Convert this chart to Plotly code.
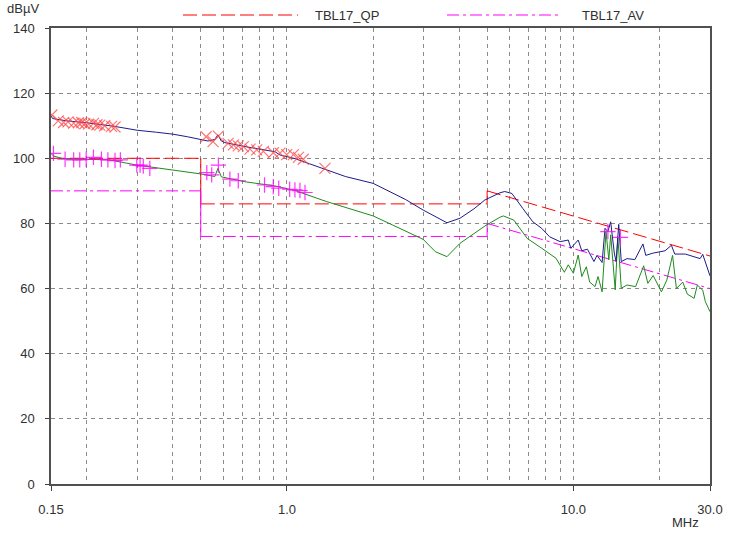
import plotly.graph_objects as go

# limit lines (frequency breakpoints in MHz, level in dBuV)
limit_f = [0.15, 0.5, 5.0, 30.0]
qp_limit = [[100, 100], [86, 86], [90, 70]]
av_limit = [[90, 90], [76, 76], [80, 60]]

# measured QP trace (blue)
qp_freq = [0.15, 0.152, 0.17, 0.2, 0.25, 0.3, 0.35, 0.4, 0.45, 0.5, 0.53, 0.56, 0.574, 0.59,
           0.607, 0.713, 0.8, 0.909, 0.946, 1.067, 1.2, 1.376, 1.6, 2.0, 2.34, 2.6, 2.99, 3.3,
           3.62, 4.02, 4.5, 4.91, 5.54, 5.76, 6.1, 6.66, 7.22, 7.75, 8.26, 8.99, 9.6, 9.8,
           10.4, 10.7, 11.2, 11.8, 12.1, 12.6, 12.9, 13.2, 13.5, 13.9, 14.1, 14.4, 14.7, 15.4,
           16.4, 17.5, 17.9, 19.0, 20.9, 22.0, 22.6, 24.6, 26.4, 27.7, 28.3, 29.2, 30.0]
qp_level = [113.0, 112.2, 111.5, 110.9, 109.8, 108.6, 108.0, 107.4, 106.6, 105.9, 105.3, 105.8,
            107.2, 105.3, 104.8, 103.6, 102.8, 102.0, 101.0, 99.9, 98.3, 96.4, 94.4, 92.3, 89.3,
            87.3, 84.1, 82.0, 80.2, 81.6, 84.5, 87.2, 89.4, 89.8, 89.2, 84.6, 80.5, 78.5, 75.9,
            74.4, 74.9, 72.4, 74.9, 71.6, 72.1, 68.3, 70.2, 68.0, 78.5, 77.5, 80.5, 70.9, 68.3,
            79.7, 68.3, 69.2, 68.9, 73.7, 70.2, 70.9, 71.6, 73.3, 70.6, 70.6, 69.9, 69.2, 70.5,
            66.7, 63.9]

# measured AV trace (green)
av_freq = [0.15, 0.153, 0.165, 0.2, 0.24, 0.3, 0.4, 0.5, 0.56, 0.574, 0.59, 0.713, 0.909,
           1.067, 1.376, 2.0, 2.34, 2.99, 3.3, 3.62, 4.02, 4.91, 5.54, 5.7, 6.2, 6.9, 7.75,
           8.7, 9.3, 9.6, 10.0, 10.4, 10.7, 11.1, 11.4, 11.9, 12.2, 12.6, 13.0, 13.3, 13.5,
           13.8, 14.0, 14.3, 14.7, 15.4, 16.5, 17.6, 18.2, 19.0, 20.3, 21.2, 22.2, 22.9, 24.1,
           25.0, 26.4, 27.1, 28.3, 28.9, 30.0]
av_level = [101.5, 100.7, 99.9, 99.7, 99.5, 97.9, 96.4, 95.2, 94.4, 96.9, 94.3, 92.8, 91.5,
            90.1, 86.7, 82.3, 79.5, 75.1, 71.3, 69.8, 73.9, 79.2, 81.9, 82.3, 81.0, 75.4, 72.4,
            69.3, 65.0, 67.3, 64.7, 70.3, 63.7, 66.7, 62.0, 60.6, 63.7, 59.0, 77.5, 68.8, 76.5,
            65.7, 59.6, 75.9, 60.1, 61.1, 60.6, 67.0, 61.6, 64.0, 59.0, 62.6, 70.2, 60.0, 62.0,
            58.3, 57.0, 61.1, 59.5, 56.0, 52.9]

# QP measurement points (x markers)
qp_pts_f = [0.151, 0.159, 0.166, 0.172, 0.180, 0.187, 0.192, 0.197, 0.203, 0.211, 0.217,
            0.222, 0.231, 0.244, 0.251, 0.522, 0.552, 0.576, 0.623, 0.650, 0.676, 0.704,
            0.743, 0.784, 0.827, 0.896, 0.946, 0.998, 1.053, 1.096, 1.14, 1.357]
qp_pts_v = [113.3, 111.5, 111.0, 111.2, 110.8, 110.9, 111.0, 110.6, 110.5, 110.7, 110.3,
            110.2, 110.0, 109.8, 109.6, 106.6, 105.1, 106.8, 104.6, 104.1, 103.8, 103.6,
            102.8, 102.6, 102.1, 101.7, 101.6, 101.1, 101.1, 100.3, 99.7, 96.9]

# AV measurement points (+ markers)
av_pts_f = [0.153, 0.168, 0.180, 0.189, 0.199, 0.211, 0.225, 0.237, 0.251, 0.262, 0.299,
            0.307, 0.315, 0.332, 0.525, 0.546, 0.576, 0.632, 0.676, 0.835, 0.896, 0.936,
            1.022, 1.066, 1.11, 1.156, 13.2, 14.6]
av_pts_v = [101.5, 99.7, 99.5, 99.5, 99.7, 100.3, 99.7, 99.5, 99.3, 99.5, 97.9, 97.9, 97.6,
            96.9, 95.6, 94.9, 97.9, 93.6, 93.1, 91.8, 91.3, 90.8, 90.5, 90.3, 90.1, 89.5,
            77.5, 75.7]

x_ticks = [0.15, 1.0, 10.0, 30.0]
x_ticktext = ["0.15", "1.0", "10.0", "30.0"]
x_grid = [0.2, 0.3, 0.4, 0.5, 0.6, 0.7, 0.8, 0.9, 2, 3, 4, 5, 6, 7, 8, 9, 20]

RED = "#ff0000"
MAGENTA = "#ff00ff"
FONT = "Liberation Sans, Arial, sans-serif"

fig = go.Figure()


def add_limit(levels, color, dash):
    # horizontal/sloped parts dashed, the steps between bands solid
    for i, (a, b) in enumerate(levels):
        fig.add_trace(go.Scatter(
            x=[limit_f[i], limit_f[i + 1]], y=[a, b], mode="lines",
            line=dict(color=color, width=1, dash=dash), showlegend=False, hoverinfo="skip"))
    for i in range(1, len(levels)):
        fig.add_trace(go.Scatter(
            x=[limit_f[i], limit_f[i]], y=[levels[i - 1][1], levels[i][0]], mode="lines",
            line=dict(color=color, width=1), showlegend=False, hoverinfo="skip"))


add_limit(qp_limit, RED, "14px,5px")
add_limit(av_limit, MAGENTA, "12px,4px,3px,4px")

fig.add_trace(go.Scatter(x=av_freq, y=av_level, mode="lines",
                         line=dict(color="#1e8a1e", width=1), showlegend=False))
fig.add_trace(go.Scatter(x=qp_freq, y=qp_level, mode="lines",
                         line=dict(color="#1c1c8c", width=1), showlegend=False))
fig.add_trace(go.Scatter(x=qp_pts_f, y=qp_pts_v, mode="markers",
                         marker=dict(symbol="x-thin", size=11, line=dict(color="rgba(255,70,70,0.75)", width=1.2)),
                         showlegend=False))
fig.add_trace(go.Scatter(x=av_pts_f, y=av_pts_v, mode="markers",
                         marker=dict(symbol="cross-thin", size=11, line=dict(color="rgba(255,0,255,0.8)", width=1.2)),
                         showlegend=False))

# legend drawn by hand at the top
fig.add_shape(type="line", xref="paper", yref="paper", x0=(183 - 51) / 659, x1=(298 - 51) / 659,
              y0=1 + 13 / 456, y1=1 + 13 / 456, line=dict(color=RED, width=1.2, dash="14px,5px"))
fig.add_shape(type="line", xref="paper", yref="paper", x0=(447 - 51) / 659, x1=(562 - 51) / 659,
              y0=1 + 13 / 456, y1=1 + 13 / 456, line=dict(color=MAGENTA, width=1.2, dash="12px,4px,3px,4px"))
fig.add_annotation(text="TBL17_QP", xref="paper", yref="paper", x=(313 - 51) / 659, y=1 + 13 / 456,
                   xanchor="left", yanchor="middle", showarrow=False, font=dict(size=13, color="#303030"))
fig.add_annotation(text="TBL17_AV", xref="paper", yref="paper", x=(580 - 51) / 659, y=1 + 13 / 456,
                   xanchor="left", yanchor="middle", showarrow=False, font=dict(size=13, color="#303030"))
fig.add_annotation(text="dBµV", xref="paper", yref="paper", x=-46 / 659, y=1 + 20 / 456,
                   xanchor="left", yanchor="middle", showarrow=False, font=dict(size=13, color="#303030"))
fig.add_annotation(text="MHz", xref="paper", yref="paper", x=(685 - 51) / 659, y=-38 / 456,
                   xanchor="center", yanchor="middle", showarrow=False, font=dict(size=13, color="#303030"))

fig.update_layout(
    width=731, height=538,
    margin=dict(l=51, r=21, t=28, b=54, autoexpand=False),
    paper_bgcolor="white", plot_bgcolor="white",
    font=dict(family=FONT, size=13, color="#303030"),
    showlegend=False,
)
fig.update_xaxes(
    type="log", range=[-0.823909, 1.477121], automargin=False,
    tickmode="array", tickvals=x_ticks, ticktext=x_ticktext,
    ticks="outside", ticklen=5, tickcolor="#404040", ticklabelstandoff=8,
    showgrid=True, gridcolor="#8a8a8a", griddash="4px,4px", gridwidth=1,
    minor=dict(tickmode="array", tickvals=x_grid, showgrid=True, gridcolor="#8a8a8a",
               griddash="4px,4px", gridwidth=1, ticks=""),
    showline=True, linecolor="#505050", linewidth=1.5, mirror=True, zeroline=False,
)
fig.update_yaxes(
    range=[0, 140], dtick=20, tick0=0, automargin=False,
    ticks="outside", ticklen=4, tickcolor="#404040", ticklabelstandoff=8,
    showgrid=True, gridcolor="#8a8a8a", griddash="4px,4px", gridwidth=1,
    showline=True, linecolor="#505050", linewidth=1.5, mirror=True, zeroline=False,
)

# drop the default 8px page margin so the figure sits at the window origin
fig.write_html("out.html", config={"displayModeBar": False},
               post_script="document.body.style.margin='0';")
